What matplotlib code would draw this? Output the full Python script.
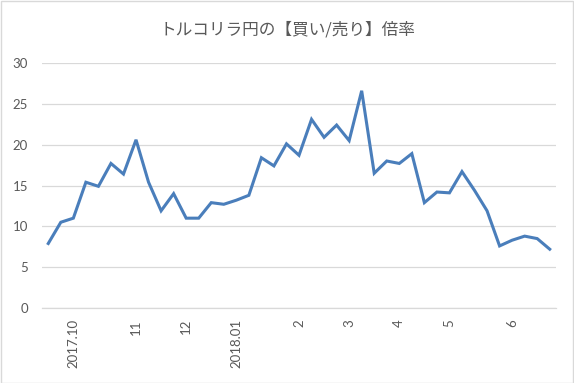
import matplotlib
matplotlib.use("Agg")
import matplotlib.pyplot as plt
from matplotlib.patches import Rectangle

# weekly buy/sell ratio
ratio = [
    7.9, 10.5, 11.0, 15.4, 14.9, 17.7, 16.4, 20.6, 15.4, 11.9,
    14.0, 11.0, 11.0, 12.9, 12.7, 13.2, 13.8, 18.4, 17.4, 20.1,
    18.7, 23.1, 20.9, 22.4, 20.5, 26.6, 16.5, 18.0, 17.7, 18.9,
    12.9, 14.2, 14.1, 16.7, 14.4, 11.9, 7.6, 8.3, 8.8, 8.5, 7.2,
]
# only some weeks carry a month label
label_at = {2: "2017.10", 7: "11", 11: "12", 15: "2018.01", 20: "2",
            24: "3", 28: "4", 32: "5", 37: "6"}
yticks = [0, 5, 10, 15, 20, 25, 30]
title = "トルコリラ円の【買い/売り】倍率"

text_gray = "#595959"
grid_gray = "#d9d9d9"
line_blue = "#4a7ebb"

fig = plt.figure(figsize=(5.74, 3.83), dpi=100)
ax = fig.add_axes([42 / 574, 1 - 308 / 383, (556 - 42) / 574, (308 - 63) / 383])

x = list(range(len(ratio)))
ax.plot(x, ratio, color=line_blue, linewidth=2.2, solid_joinstyle="miter")

ax.set_xlim(-0.5, len(ratio) - 0.5)
ax.set_ylim(0, 30)
ax.set_yticks(yticks)
ax.set_yticklabels([str(v) for v in yticks], family="Lato", fontsize=9.5, color=text_gray)
ax.set_xticks(list(label_at.keys()))
ax.set_xticklabels(list(label_at.values()), rotation=90, va="top", ha="center",
                   family="Lato", fontsize=9.5, color=text_gray)
ax.tick_params(axis="both", length=0)
ax.tick_params(axis="y", pad=10)
ax.tick_params(axis="x", pad=8)

ax.grid(axis="y", color=grid_gray, linewidth=0.9)
ax.set_axisbelow(True)
for side in ("top", "right", "left"):
    ax.spines[side].set_visible(False)
ax.spines["bottom"].set_color(grid_gray)
ax.spines["bottom"].set_linewidth(0.9)

fig.text(0.5, 1 - 30 / 383, title, ha="center", va="center", fontsize=12,
         color=text_gray, family=["Noto Sans CJK JP", "DejaVu Sans"])

# thin chart border like the Excel export
fig.patches.append(Rectangle((0.5 / 574, 0.5 / 383), 1 - 1.5 / 574, 1 - 1.5 / 383,
                             transform=fig.transFigure, fill=False,
                             edgecolor=grid_gray, linewidth=1))

fig.savefig("out.png", dpi=100)
